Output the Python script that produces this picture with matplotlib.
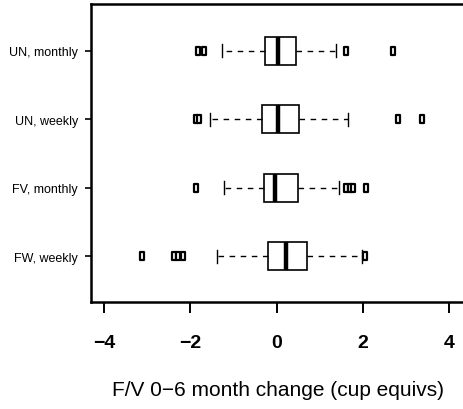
from __future__ import annotations

import matplotlib

matplotlib.use("Agg")
import matplotlib.pyplot as plt
import numpy as np
from matplotlib.path import Path

# groups, bottom to top (R boxplot order)
GROUPS = ["FW, weekly", "FV, monthly", "UN, weekly", "UN, monthly"]
WHISK_LO = [-1.38, -1.22, -1.55, -1.27]
Q1 = [-0.19, -0.29, -0.33, -0.26]
MEDIAN = [0.22, -0.04, 0.04, 0.04]
Q3 = [0.70, 0.49, 0.53, 0.45]
WHISK_HI = [1.99, 1.45, 1.65, 1.37]
FLIERS = [
    [-3.12, -2.37, -2.28, -2.17, 2.04],
    [-1.86, 1.62, 1.70, 1.78, 2.08],
    [-1.86, -1.80, 2.81, 3.36],
    [-1.83, -1.67, 1.62, 2.70],
]
X_TICKS = [-4, -2, 0, 2, 4]
X_LABEL = "F/V 0\u22126 month change (cup equivs)"

# tall narrow open rectangle, like the R pch=0 squares stretched in the source
RECT = Path([(-0.5, -1.0), (0.5, -1.0), (0.5, 1.0), (-0.5, 1.0), (-0.5, -1.0)],
            [Path.MOVETO, Path.LINETO, Path.LINETO, Path.LINETO, Path.CLOSEPOLY])


def build_stats() -> list[dict[str, object]]:
    stats = []
    for i, name in enumerate(GROUPS):
        stats.append(
            {
                "label": name,
                "whislo": WHISK_LO[i],
                "q1": Q1[i],
                "med": MEDIAN[i],
                "q3": Q3[i],
                "whishi": WHISK_HI[i],
                "fliers": np.asarray(FLIERS[i], dtype=np.float64),
            }
        )
    return stats


def main() -> int:
    plt.rcParams["font.family"] = ["Liberation Sans", "DejaVu Sans"]
    fig = plt.figure(figsize=(4.63, 4.10), dpi=100)
    W, H = 463.0, 410.0
    ax = fig.add_axes([91 / W, (H - 303) / H, (472 - 91) / W, (303 - 5) / H])

    positions = np.arange(1, len(GROUPS) + 1)
    ax.bxp(
        build_stats(),
        positions=positions,
        widths=0.41,
        capwidths=0.19,
        vert=False,
        patch_artist=True,
        boxprops=dict(facecolor="white", edgecolor="black", linewidth=1.2),
        medianprops=dict(color="black", linewidth=3.2, solid_capstyle="butt"),
        whiskerprops=dict(color="black", linewidth=1.0, linestyle=(0, (4, 4))),
        capprops=dict(color="black", linewidth=1.0),
        flierprops=dict(marker=RECT, markersize=5.8, markerfacecolor="white",
                        markeredgecolor="black", markeredgewidth=1.6, linestyle="none"),
    )

    ax.set_xlim(-4.30, 4.53)
    ax.set_ylim(0.328, 4.686)
    ax.set_xticks(X_TICKS)
    ax.set_xticklabels([str(t).replace("-", "\u2212") for t in X_TICKS],
                       fontsize=14, fontweight="bold")
    ax.set_yticks(positions)
    ax.set_yticklabels(GROUPS, fontsize=9)
    ax.tick_params(axis="x", direction="out", length=8, width=1.4, pad=15)
    ax.tick_params(axis="y", direction="out", length=4.5, width=1.2, pad=5)
    for side in ("left", "bottom", "top", "right"):
        ax.spines[side].set_linewidth(1.8)
    ax.set_xlabel(X_LABEL, fontsize=15)
    # label sits under the visible part of the plot, not the clipped frame
    ax.xaxis.set_label_coords((277.5 - 91) / (472 - 91), -(391 - 303) / (303 - 5), transform=ax.transAxes)
    ax.xaxis.label.set_va("center")

    fig.savefig("out.png", dpi=100)
    plt.close(fig)
    return 0


if __name__ == "__main__":
    raise SystemExit(main())
